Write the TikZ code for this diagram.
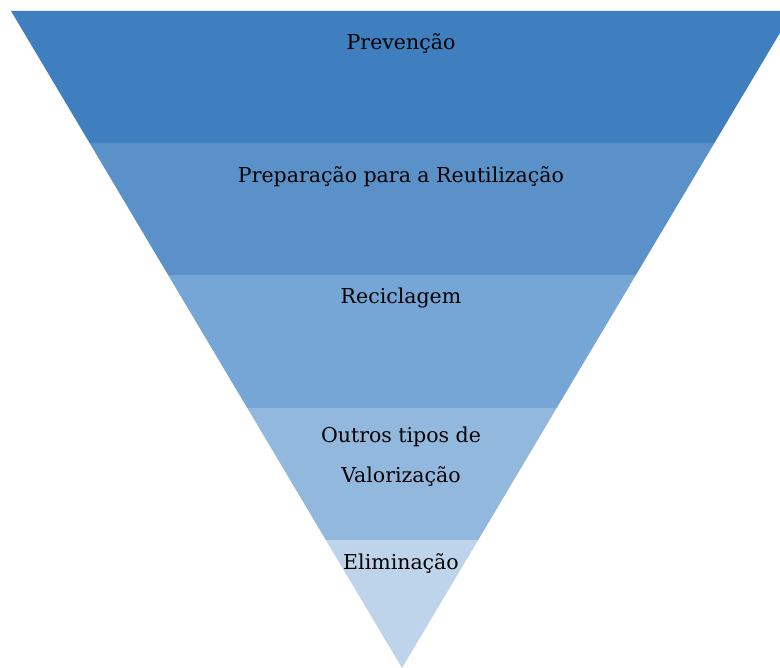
\documentclass[tikz,border=0pt]{standalone}
\usepackage{fontspec}
\setmainfont{DejaVu Serif}
\definecolor{bandA}{RGB}{63,127,191}
\definecolor{bandB}{RGB}{91,145,201}
\definecolor{bandC}{RGB}{118,166,213}
\definecolor{bandD}{RGB}{147,184,221}
\definecolor{bandE}{RGB}{190,212,234}
\tikzset{
  band/.style={draw=none},
  lbl/.style={anchor=base, font=\fontsize{20.5}{24}\selectfont, text=black, inner sep=0pt}
}
\begin{document}
\begin{tikzpicture}[x=1pt,y=-1pt]
\useasboundingbox (0,0) rectangle (780,668);
\clip (0,0) rectangle (780,668);
\fill[white] (0,0) rectangle (780,668);
% corners of the bands
\coordinate (l0) at (11,11);     \coordinate (r0) at (793,11);
\coordinate (l1) at (89.6,143);  \coordinate (r1) at (714.4,143);
\coordinate (l2) at (168.1,275); \coordinate (r2) at (635.9,275);
\coordinate (l3) at (247.3,408); \coordinate (r3) at (556.7,408);
\coordinate (l4) at (325.8,540); \coordinate (r4) at (478.2,540);
\coordinate (apex) at (402,668);
\fill[band, bandA] (l0) -- (r0) -- (r1) -- (l1) -- cycle;
\fill[band, bandB] (l1) -- (r1) -- (r2) -- (l2) -- cycle;
\fill[band, bandC] (l2) -- (r2) -- (r3) -- (l3) -- cycle;
\fill[band, bandD] (l3) -- (r3) -- (r4) -- (l4) -- cycle;
\fill[band, bandE] (l4) -- (r4) -- (apex) -- cycle;
\node[lbl] (t1) at (401,50) {Prevenção};
\node[lbl] (t2) at (401,183) {Preparação para a Reutilização};
\node[lbl] (t3) at (401,304) {Reciclagem};
\node[lbl] (t4a) at (401,443) {Outros tipos de};
\node[lbl] (t4b) at (401,483) {Valorização};
\node[lbl] (t5) at (401,569) {Eliminação};
\end{tikzpicture}
\end{document}
